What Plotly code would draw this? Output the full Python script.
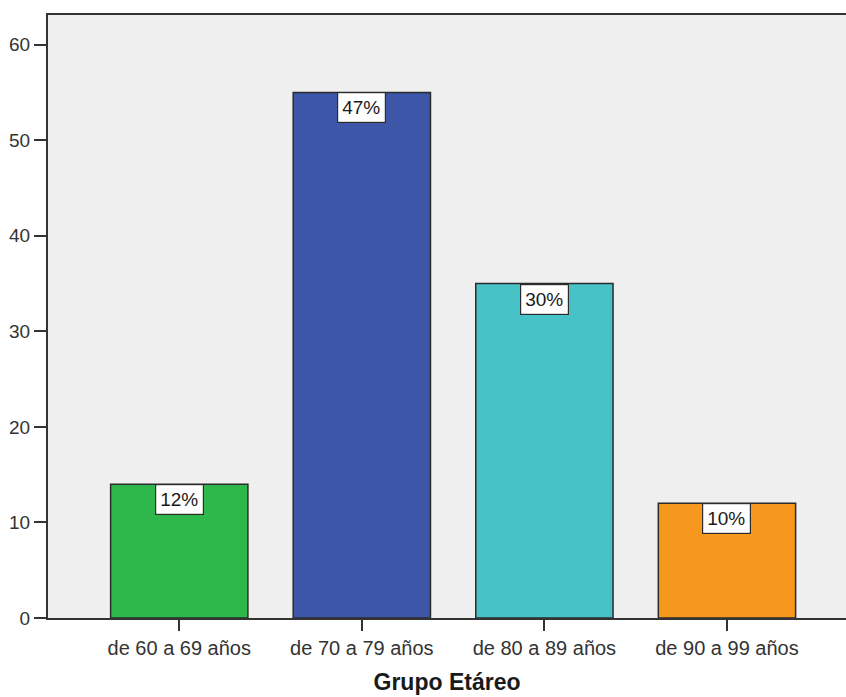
import plotly.graph_objects as go

categories = ["de 60 a 69 años", "de 70 a 79 años", "de 80 a 89 años", "de 90 a 99 años"]
counts = [14, 55, 35, 12]
percent_labels = ["12%", "47%", "30%", "10%"]
colors = ["#2eb84b", "#3d56a8", "#47c2c6", "#f7981e"]
y_ticks = [0, 10, 20, 30, 40, 50, 60]

FONT = "Liberation Sans, Arial, sans-serif"

fig = go.Figure()
fig.add_trace(go.Bar(
    x=list(range(len(categories))),
    y=counts,
    width=0.752,
    marker=dict(color=colors, line=dict(color="#2b2b2b", width=1.5)),
    hoverinfo="skip",
))

for i, (v, lab) in enumerate(zip(counts, percent_labels)):
    fig.add_annotation(
        x=i, y=v, text=lab, showarrow=False,
        xref="x", yref="y", yanchor="top",
        bgcolor="white", bordercolor="#2b2b2b", borderwidth=1.2, borderpad=4,
        font=dict(family=FONT, size=19, color="#1a1a1a"),
    )

fig.update_layout(
    width=846, height=697,
    margin=dict(l=48, r=0, t=15, b=79),
    paper_bgcolor="white",
    plot_bgcolor="#efefef",
    showlegend=False,
    font=dict(family=FONT, size=19, color="#333333"),
)
fig.update_xaxes(
    range=[-0.719, 3.652],
    tickmode="array", tickvals=list(range(len(categories))), ticktext=categories,
    ticks="outside", ticklen=11, tickwidth=2, tickcolor="#333333",
    showline=True, linecolor="#333333", linewidth=2, mirror=True,
    showgrid=False, zeroline=False,
    title=dict(text="<b>Grupo Etáreo</b>", font=dict(family=FONT, size=23, color="#1a1a1a"), standoff=16),
    tickfont=dict(family=FONT, size=20, color="#333333"),
)
fig.update_yaxes(
    range=[0, 63.1],
    tickmode="array", tickvals=y_ticks,
    ticks="outside", ticklen=12, tickwidth=2, tickcolor="#333333",
    showline=True, linecolor="#333333", linewidth=2,
    showgrid=False, zeroline=False,
    tickfont=dict(family=FONT, size=19, color="#333333"),
)

fig.write_html(
    "out.html",
    config={"displayModeBar": False},
    post_script="document.body.style.margin='0';document.body.style.overflow='hidden';",
)
